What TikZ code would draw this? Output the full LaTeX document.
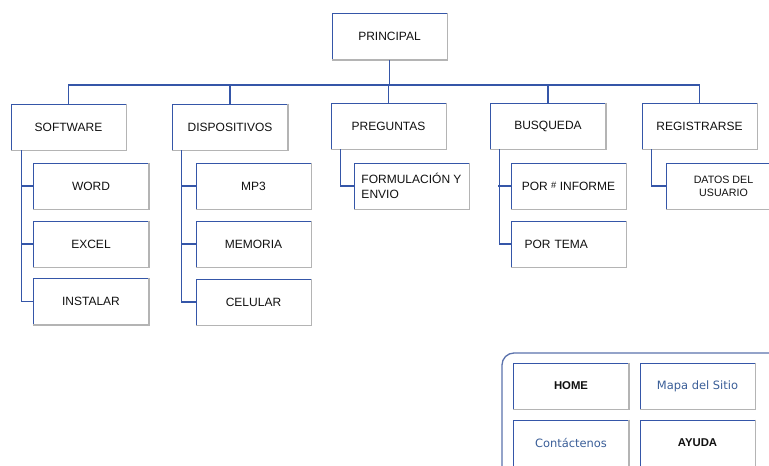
\documentclass[tikz,border=0pt]{standalone}
\usepackage{fontspec}
\setmainfont{Liberation Sans}
\newfontfamily\verdanaish{DejaVu Sans}
\usetikzlibrary{calc}
\definecolor{azul}{HTML}{3556A8}
\definecolor{gris}{HTML}{B4B4B4}
\definecolor{letra}{HTML}{111111}
\definecolor{enlace}{HTML}{3A5E98}
\tikzset{
	caja/.style={draw=azul, line width=0.7pt, minimum width=86.25pt, minimum height=34.5pt, inner sep=0pt, fill=white, font=\fontsize{9}{11}\selectfont, text=letra},
	linea/.style={draw=azul, line width=0.8pt},
	sombra/.style={draw=gris, line width=1.2pt},
}

\begin{document}
\begin{tikzpicture}[x=0.75pt, y=-0.75pt]
		%%%%% START %%%%%
		\useasboundingbox (0, 0) rectangle (769, 466);
		\clip (0, 0) rectangle (769, 466);
		
		\node[caja] (principal) at (389.5, 36.5) {PRINCIPAL};
		
		\node[caja] (software) at (68.5, 127) {SOFTWARE};
		\node[caja] (dispositivos) at (230, 127) {DISPOSITIVOS};
		\node[caja] (preguntas) at (388.5, 126) {PREGUNTAS};
		\node[caja] (busqueda) at (548, 126) {BUSQUEDA};
		\node[caja] (registrarse) at (699.5, 126) {REGISTRARSE};
		
		\node[caja] (word) at (91, 186) {WORD};
		\node[caja] (excel) at (91, 244) {EXCEL};
		\node[caja] (instalar) at (91, 301.5) {INSTALAR};
		
		\node[caja] (mp3) at (253.5, 186) {MP3};
		\node[caja] (memoria) at (253.5, 244) {MEMORIA};
		\node[caja] (celular) at (253.5, 302) {CELULAR};
		
		\node[caja, align=left] (formulacion) at (411.5, 186) {FORMULACIÓN Y\\ENVIO};
		
		\node[caja] (informe) at (568.5, 186) {POR {\raisebox{.35ex}{\scriptsize\#}} INFORME};
		\node[caja, text width=66pt, align=left] (tema) at (568.5, 244) {POR TEMA};
		
		\node[caja, align=center, font=\fontsize{8}{10}\selectfont] (datos) at (723.5, 186) {DATOS DEL\\USUARIO};
		
		% sombras de las cajas
		\foreach \n in {principal, software, dispositivos, preguntas, busqueda, registrarse, word, excel, instalar, mp3, memoria, celular, formulacion, informe, tema, datos}
			\draw[sombra] (\n.north east) -- (\n.south east) -- (\n.south west);
		
		% linea principal
		\coordinate (bus) at (0, 85);
		\draw[linea] (principal.south) -- (principal.south |- bus);
		\draw[linea] (software.north) -- (software.north |- bus) -- (registrarse.north |- bus) -- (registrarse.north);
		\foreach \n in {dispositivos, preguntas, busqueda}
			\draw[linea] (\n.north) -- (\n.north |- bus);
		
		% hijos
		\coordinate (barsw) at ([xshift=8pt]software.south west);
		\draw[linea] (barsw) |- (instalar.west);
		\draw[linea] (barsw |- word.west) -- (word.west);
		\draw[linea] (barsw |- excel.west) -- (excel.west);
		
		\coordinate (bardis) at ([xshift=7pt]dispositivos.south west);
		\draw[linea] (bardis) |- (celular.west);
		\draw[linea] (bardis |- mp3.west) -- (mp3.west);
		\draw[linea] (bardis |- memoria.west) -- (memoria.west);
		
		\coordinate (barpre) at ([xshift=7.5pt]preguntas.south west);
		\draw[linea] (barpre) |- (formulacion.west);
		
		\coordinate (barbus) at ([xshift=7pt]busqueda.south west);
		\draw[linea] (barbus) |- (tema.west);
		\draw[linea] ([xshift=-1pt]barbus |- informe.west) -- (informe.west);
		
		\coordinate (barreg) at ([xshift=7.5pt]registrarse.south west);
		\draw[linea] (barreg) |- (datos.west);
		
		% panel de abajo
		\draw[line width=1pt, draw=azul!70!gris, rounded corners=9pt] (502, 353) rectangle (790, 500);
		\node[caja, font=\bfseries\fontsize{8.5}{10}\selectfont] (home) at (571, 386) {HOME\hspace{4pt}};
		\node[caja, font=\verdanaish\fontsize{8.6}{10}\selectfont, text=enlace] (mapa) at (697.5, 386) {Mapa del Sitio};
		\node[caja, font=\verdanaish\fontsize{8.6}{10}\selectfont, text=enlace] (contactenos) at (571, 443) {Contáctenos};
		\node[caja, font=\bfseries\fontsize{8.5}{10}\selectfont] (ayuda) at (697.5, 443) {AYUDA};
		\foreach \n in {home, mapa, contactenos, ayuda}
			\draw[sombra] (\n.north east) -- (\n.south east) -- (\n.south west);
		%%%%% END %%%%%
	\end{tikzpicture}
\end{document}
